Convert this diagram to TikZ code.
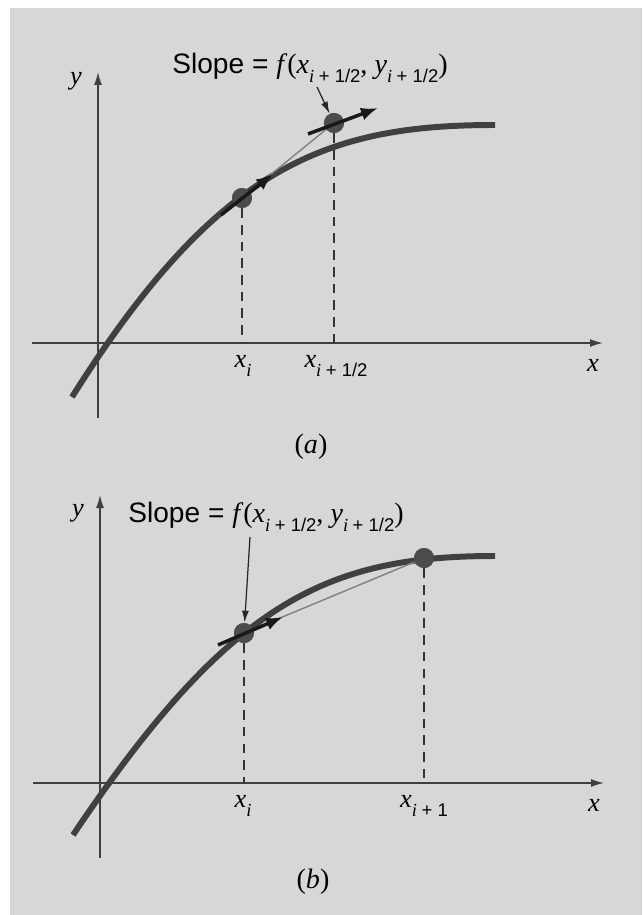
\documentclass[tikz,border=0pt]{standalone}
\usepackage{fontspec}
\setmainfont{Liberation Serif}
\newfontfamily\labelsans{Liberation Sans}
\usepackage{tikz}
\usetikzlibrary{arrows.meta}

\definecolor{paper}{RGB}{215,215,215}
\newcommand{\idx}[1]{\raisebox{-0.75ex}{\fontsize{10.5}{10.5}\selectfont #1}}
\newcommand{\ihalf}{\textit{i} {\labelsans\upshape + 1/2}}
\newcommand{\ione}{\textit{i} {\labelsans\upshape + 1}}

\begin{document}
\begin{tikzpicture}[
  x=0.02cm, y=-0.02cm,
  axis/.style={draw=black!75, line width=0.8pt, -{Latex[length=2.6mm,width=1.6mm]}},
  curve/.style={draw=black!75, line width=3.4pt},
  guide/.style={draw=black!80, line width=0.8pt, dash pattern=on 5.5pt off 4pt},
  chord/.style={draw=black!50, line width=0.8pt},
  tangent/.style={draw=black!90, line width=2pt, -{Latex[length=3.4mm,width=2.6mm]}},
  pointer/.style={draw=black!85, line width=0.7pt, -{Latex[length=2.4mm,width=1.4mm]}},
  dot/.style={circle, fill=black!70, minimum size=0.4cm, inner sep=0pt},
  axlabel/.style={font=\fontsize{15}{15}\selectfont\itshape},
  slope/.style={font=\fontsize{16}{16}\selectfont},
  caption/.style={font=\fontsize{16}{16}\selectfont},
]

%% Page
\useasboundingbox (0,0) rectangle (642,915);
\fill[white] (0,0) rectangle (642,915);
\fill[paper] (10,8) rectangle (642,915);

%% Panel (a): axes
\coordinate (axla) at (32,343);
\coordinate (axra) at (603,343);
\coordinate (ayba) at (98,418);
\coordinate (ayta) at (98,72);
\draw[axis] (axla) -- (axra);
\draw[axis] (ayba) -- (ayta);
\node[axlabel] (lxa) at (593,365) {x};
\node[axlabel] (lya) at (76,81) {y};

%% Panel (a): guides, curve, points
\node[dot] (pia) at (242,198) {};
\node[dot] (pma) at (334,123) {};
\coordinate (fia) at (242,343);
\coordinate (fma) at (334,343);
\draw[guide] (pia) -- (fia);
\draw[guide] (pma) -- (fma);
\coordinate (ca0) at (72,397);
\coordinate (ca1) at (495,125);
\draw[curve] (ca0) .. controls (218,165) and (327,125) .. (ca1);
\draw[chord] (pia) -- (pma);
\node[dot] at (pia) {};
\node[dot] at (pma) {};

%% Panel (a): slopes
\coordinate (tia0) at (221,215);
\coordinate (tia1) at (273,174);
\draw[tangent] (tia0) -- (tia1);
\coordinate (tma0) at (308,134);
\coordinate (tma1) at (378,108);
\draw[tangent] (tma0) -- (tma1);

\node[slope] (sla) at (310,68)
  {{\labelsans Slope = }\textit{f}(\textit{x}\idx{\ihalf}, \textit{y}\idx{\ihalf})};
\coordinate (spa) at (317,87);
\draw[pointer] (spa) -- (pma);

%% Panel (a): labels
\node[axlabel] (xia) at (243,366) {x\idx{i}};
\node[axlabel] (xma) at (336,366) {x\idx{\ihalf}};
\node[caption] (capa) at (311,447) {(\textit{a})};

%% Panel (b): axes
\coordinate (axlb) at (33,783);
\coordinate (axrb) at (604,783);
\coordinate (aybb) at (100,858);
\coordinate (aytb) at (100,495);
\draw[axis] (axlb) -- (axrb);
\draw[axis] (aybb) -- (aytb);
\node[axlabel] (lxb) at (594,805) {x};
\node[axlabel] (lyb) at (78,513) {y};

%% Panel (b): guides, curve, points
\node[dot] (pib) at (244,633) {};
\node[dot] (pnb) at (424,558) {};
\coordinate (fib) at (244,783);
\coordinate (fnb) at (424,783);
\draw[guide] (pib) -- (fib);
\draw[guide] (pnb) -- (fnb);
\coordinate (cb0) at (73,835);
\coordinate (cb1) at (495,556);
\draw[curve] (cb0) .. controls (230,601) and (327,556) .. (cb1);
\draw[chord] (pib) -- (pnb);
\node[dot] at (pib) {};
\node[dot] at (pnb) {};

%% Panel (b): slope
\coordinate (tib0) at (218,645);
\coordinate (tib1) at (283,617);
\draw[tangent] (tib0) -- (tib1);

\node[slope] (slb) at (266,517)
  {{\labelsans Slope = }\textit{f}(\textit{x}\idx{\ihalf}, \textit{y}\idx{\ihalf})};
\coordinate (spb) at (250,537);
\draw[pointer] (spb) -- (pib);

%% Panel (b): labels
\node[axlabel] (xib) at (243,806) {x\idx{i}};
\node[axlabel] (xnb) at (424,806) {x\idx{\ione}};
\node[caption] (capb) at (313,882) {(\textit{b})};

\end{tikzpicture}
\end{document}
